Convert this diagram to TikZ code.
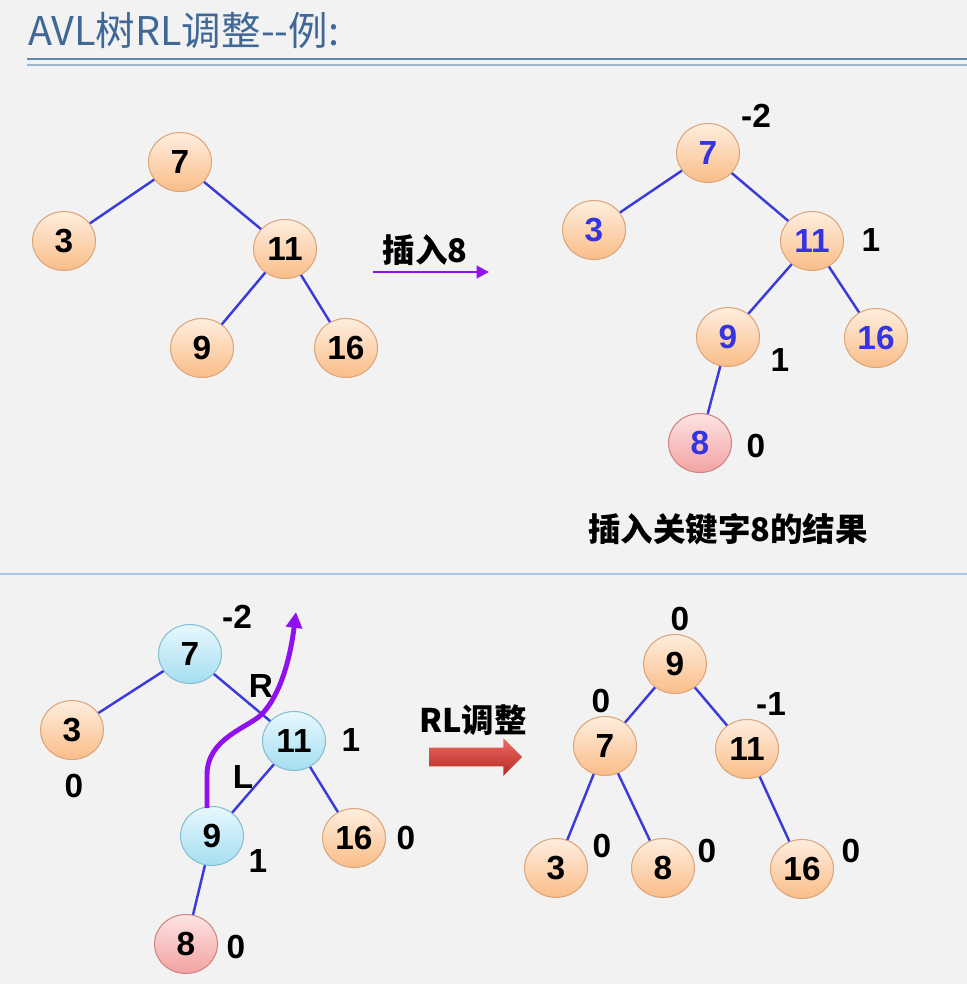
\documentclass[tikz,border=0pt]{standalone}
\usepackage{fontspec}
\setmainfont{Liberation Sans}
\newfontfamily\cjk{Noto Sans CJK SC}
\usetikzlibrary{shapes,arrows.meta}

\definecolor{bgcol}{HTML}{F2F2F2}
\definecolor{titleblue}{HTML}{3F6896}
\definecolor{ruleblue}{HTML}{5F86B2}
\definecolor{sepblue}{HTML}{A9C6EC}
\definecolor{edgeblue}{HTML}{3B3BDA}
\definecolor{numblue}{HTML}{3434E0}
\definecolor{orangetop}{HTML}{FEEEDF}
\definecolor{orangebot}{HTML}{FABD88}
\definecolor{orangeline}{HTML}{DCA57A}
\definecolor{bluetop}{HTML}{E8F8FD}
\definecolor{bluebot}{HTML}{A4DEF1}
\definecolor{blueline}{HTML}{86BFD3}
\definecolor{pinktop}{HTML}{FDE3E3}
\definecolor{pinkbot}{HTML}{F3A2A2}
\definecolor{pinkline}{HTML}{CF8585}
\definecolor{arrowpurple}{HTML}{9010F0}
\definecolor{redtop}{HTML}{EC6A62}
\definecolor{redbot}{HTML}{B42A22}

\begin{document}
\begin{tikzpicture}[x=0.02cm,y=-0.02cm,
  key/.style={ellipse,draw=orangeline,line width=0.6pt,top color=orangetop,bottom color=orangebot,
    minimum width=1.26cm,minimum height=1.18cm,inner sep=0pt,font=\fontsize{19}{22}\selectfont\bfseries},
  bluekey/.style={key,draw=blueline,top color=bluetop,bottom color=bluebot},
  pinkkey/.style={key,draw=pinkline,top color=pinktop,bottom color=pinkbot},
  blue text/.style={text=numblue},
  edge/.style={draw=edgeblue,line width=1.4pt},
  bal/.style={font=\fontsize{19}{22}\selectfont\bfseries},
  caption/.style={font=\cjk\fontsize{18.5}{22}\selectfont\bfseries}]

% background and title
\fill[bgcol] (0,0) rectangle (967,984);
\useasboundingbox (0,0) rectangle (967,984);
\node[anchor=west,text=titleblue,font=\cjk\fontsize{22.5}{26}\selectfont] (title) at (22,30) {AVL树RL调整--例:};
\coordinate (rule0) at (27,59);
\coordinate (rule1) at (967,59);
\coordinate (rulea) at (27,65);
\coordinate (ruleb) at (967,65);
\draw[ruleblue,line width=1.3pt] (rule0) -- (rule1);
\draw[ruleblue!60,line width=0.6pt] (rulea) -- (ruleb);
\coordinate (sep0) at (0,574);
\coordinate (sep1) at (967,574);
\draw[sepblue,line width=1.2pt] (sep0) -- (sep1);

% before insert
\node[key] (a7) at (180,162) {7};
\node[key] (a3) at (64,241) {3};
\node[key] (a11) at (285,249) {11};
\node[key] (a9) at (202,348) {9};
\node[key] (a16) at (346,348) {16};
\draw[edge] (a7) -- (a3);
\draw[edge] (a7) -- (a11);
\draw[edge] (a11) -- (a9);
\draw[edge] (a11) -- (a16);

\coordinate (ins0) at (373,272);
\coordinate (ins1) at (489,272);
\draw[arrowpurple,line width=1.6pt,-{Triangle[length=7pt,width=7pt]}] (ins0) -- (ins1);
\node[caption] (inslabel) at (425,250) {插入8};

% after insert
\node[key,blue text] (b7) at (708,153) {7};
\node[key,blue text] (b3) at (594,230) {3};
\node[key,blue text] (b11) at (812,241) {11};
\node[key,blue text] (b9) at (728,337) {9};
\node[key,blue text] (b16) at (876,338) {16};
\node[pinkkey,blue text] (b8) at (700,443) {8};
\draw[edge] (b7) -- (b3);
\draw[edge] (b7) -- (b11);
\draw[edge] (b11) -- (b9);
\draw[edge] (b11) -- (b16);
\draw[edge] (b9) -- (b8);
\node[bal] (bb7) at (756,116) {-2};
\node[bal] (bb11) at (871,240) {1};
\node[bal] (bb9) at (780,360) {1};
\node[bal] (bb8) at (756,446) {0};
\node[caption] (result) at (728,529) {插入关键字8的结果};

% before RL
\node[bluekey] (c7) at (190,654) {7};
\node[key] (c3) at (72,730) {3};
\node[bluekey] (c11) at (294,741) {11};
\node[bluekey] (c9) at (212,836) {9};
\node[key] (c16) at (354,838) {16};
\node[pinkkey] (c8) at (186,944) {8};
\draw[edge] (c7) -- (c3);
\draw[edge] (c7) -- (c11);
\draw[edge] (c11) -- (c9);
\draw[edge] (c11) -- (c16);
\draw[edge] (c9) -- (c8);
\node[bal] (cb7) at (237,617) {-2};
\node[bal] (cb3) at (74,786) {0};
\node[bal] (cb11) at (351,740) {1};
\node[bal] (cb9) at (258,861) {1};
\node[bal] (cb16) at (406,838) {0};
\node[bal] (cb8) at (236,947) {0};
\node[bal] (rlab) at (261,686) {R};
\node[bal] (llab) at (243,777) {L};
\coordinate (path0) at (207,808);
\coordinate (path1) at (296,612);
\draw[arrowpurple,line width=2.8pt,-{Triangle[length=9pt,width=9pt]}]
  (path0) -- (207,775) .. controls (207,738) and (248,728) .. (262,714)
  .. controls (280,695) and (290,660) .. (path1);

\node[caption] (rllabel) at (473,720) {RL调整};
\node[single arrow,draw=none,top color=redtop,bottom color=redbot,minimum height=1.86cm,
  single arrow head extend=0.19cm,single arrow head indent=0pt,inner xsep=0pt,inner ysep=0.18cm] (rlarrow) at (471,757) {};

% after RL
\node[key] (d9) at (675,664) {9};
\node[key] (d7) at (605,746) {7};
\node[key] (d11) at (747,749) {11};
\node[key] (d3) at (556,868) {3};
\node[key] (d8) at (663,868) {8};
\node[key] (d16) at (802,869) {16};
\draw[edge] (d9) -- (d7);
\draw[edge] (d9) -- (d11);
\draw[edge] (d7) -- (d3);
\draw[edge] (d7) -- (d8);
\draw[edge] (d11) -- (d16);
\node[bal] (db9) at (680,619) {0};
\node[bal] (db7) at (601,701) {0};
\node[bal] (db11) at (771,704) {-1};
\node[bal] (db3) at (602,846) {0};
\node[bal] (db8) at (707,851) {0};
\node[bal] (db16) at (851,851) {0};
\end{tikzpicture}
\end{document}
